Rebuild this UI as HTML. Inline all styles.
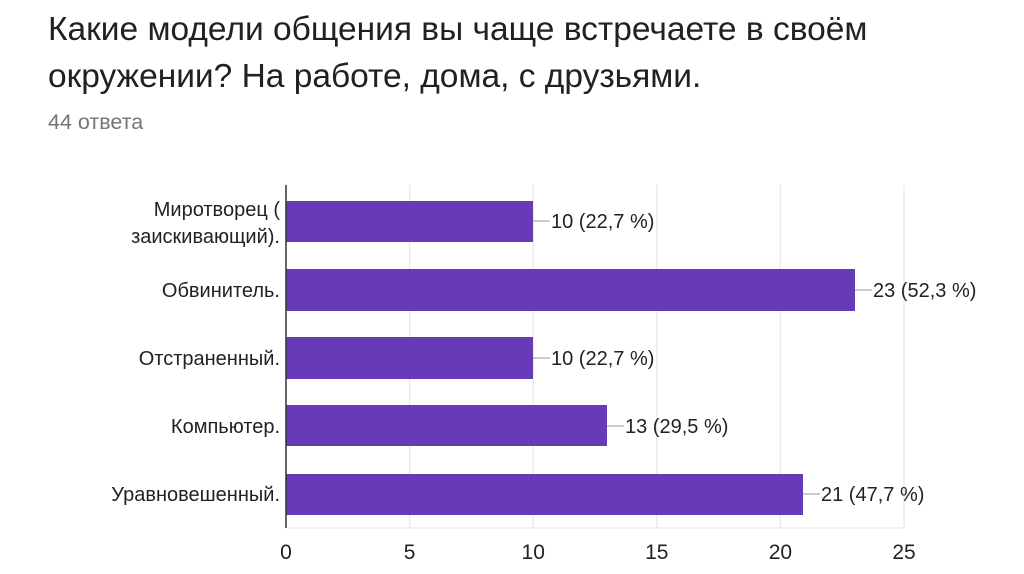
<!DOCTYPE html>
<html><head><meta charset="utf-8"><style>
body{margin:0;width:1024px;height:574px;background:#fff;overflow:hidden;font-family:"Liberation Sans","DejaVu Sans",sans-serif}
.t{position:absolute;left:48px;top:6px;font-size:33.5px;line-height:47px;color:#212121;white-space:nowrap}
.s{position:absolute;left:48px;top:109px;font-size:21.5px;line-height:26px;color:#757575}
</style></head><body>
<div class="t">Какие модели общения вы чаще встречаете в своём<br>окружении? На работе, дома, с друзьями.</div>
<div class="s">44 ответа</div>
<svg width="1024" height="574" style="position:absolute;left:0;top:0" font-family="Liberation Sans, sans-serif" font-size="20" fill="#222">
<g stroke="#ebebeb" stroke-width="1.5">
<line x1="409.6" y1="185" x2="409.6" y2="528"/><line x1="533.2" y1="185" x2="533.2" y2="528"/>
<line x1="656.8" y1="185" x2="656.8" y2="528"/><line x1="780.4" y1="185" x2="780.4" y2="528"/>
<line x1="904" y1="185" x2="904" y2="528"/><line x1="286" y1="528" x2="904" y2="528"/>
</g>
<g fill="#673ab7">
<rect x="286" y="201" width="247" height="41"/>
<rect x="286" y="269" width="569" height="42"/>
<rect x="286" y="337" width="247" height="42"/>
<rect x="286" y="405" width="321" height="41"/>
<rect x="286" y="474" width="517" height="41"/>
</g>
<line x1="286" y1="185" x2="286" y2="528" stroke="#333" stroke-width="1.5"/>
<g stroke="#999" stroke-width="1">
<line x1="533" y1="221" x2="550" y2="221"/><line x1="855" y1="290" x2="872" y2="290"/>
<line x1="533" y1="358" x2="550" y2="358"/><line x1="607" y1="426" x2="624" y2="426"/>
<line x1="803" y1="494" x2="820" y2="494"/>
</g>
<g>
<text x="551" y="228">10 (22,7 %)</text><text x="873" y="297">23 (52,3 %)</text>
<text x="551" y="365">10 (22,7 %)</text><text x="625" y="433">13 (29,5 %)</text>
<text x="821" y="501">21 (47,7 %)</text>
</g>
<g text-anchor="end">
<text x="280" y="216">Миротворец (</text><text x="280" y="243">заискивающий).</text>
<text x="280" y="297">Обвинитель.</text><text x="280" y="365">Отстраненный.</text>
<text x="280" y="433">Компьютер.</text><text x="280" y="501">Уравновешенный.</text>
</g>
<g text-anchor="middle" font-size="21">
<text x="286" y="559">0</text><text x="409.6" y="559">5</text><text x="533.2" y="559">10</text>
<text x="656.8" y="559">15</text><text x="780.4" y="559">20</text><text x="904" y="559">25</text>
</g>
</svg>
</body></html>
